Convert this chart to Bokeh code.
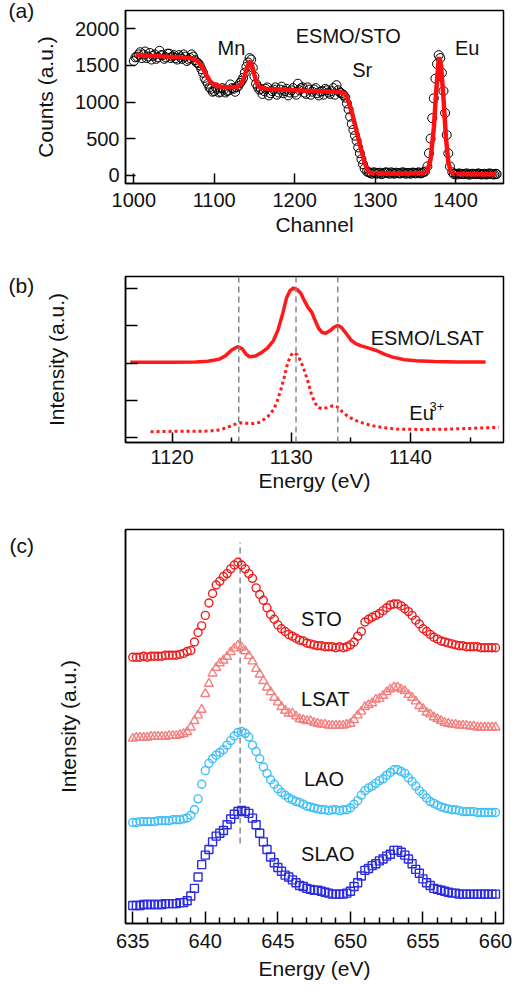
from bokeh.plotting import figure
from bokeh.layouts import column
from bokeh.models import Range1d, FixedTicker, Label, Span
from bokeh.embed import file_html
from bokeh.resources import INLINE

FONT = "Liberation Sans"

# ---------------- (a) RBS spectrum ESMO/STO ----------------
rbs_channel = [1000, 1004, 1008, 1012, 1016, 1020, 1024, 1028, 1032, 1036, 1040, 1044, 1048, 1052,
               1056, 1060, 1064, 1068, 1072, 1076, 1080, 1084, 1086, 1088, 1090, 1092, 1096, 1100,
               1104, 1108, 1112, 1116, 1120, 1124, 1128, 1132, 1136, 1140, 1144, 1146, 1148, 1150,
               1152, 1156, 1160, 1164, 1168, 1172, 1176, 1180, 1184, 1188, 1192, 1196, 1200, 1204,
               1208, 1212, 1216, 1220, 1224, 1228, 1232, 1236, 1240, 1244, 1248, 1252, 1256, 1260,
               1263, 1265, 1267, 1269, 1271, 1273, 1275, 1277, 1279, 1281, 1283, 1285, 1287, 1290,
               1294, 1298, 1302, 1306, 1310, 1314, 1318, 1322, 1326, 1330, 1334, 1338, 1342, 1346,
               1350, 1354, 1358, 1362, 1365, 1367, 1369, 1371, 1373, 1375, 1377, 1379, 1381, 1383,
               1385, 1387, 1389, 1391, 1393, 1396, 1400, 1404, 1408, 1412, 1416, 1420, 1424, 1428,
               1432, 1436, 1440, 1444, 1448, 1451,
               1002, 1006, 1010, 1014, 1018, 1022, 1026, 1030, 1034, 1038, 1042, 1046, 1050, 1054,
               1058, 1062, 1066, 1070, 1074, 1078, 1082, 1094, 1098, 1102, 1106, 1110, 1114, 1118,
               1122, 1126, 1130, 1134, 1138, 1142, 1154, 1158, 1162, 1166, 1170, 1174, 1178, 1182,
               1186, 1190, 1194, 1198, 1202, 1206, 1210, 1214, 1218, 1222, 1226, 1230, 1234, 1238,
               1242, 1246, 1250, 1254, 1258, 1261, 1292, 1296, 1300, 1304, 1308, 1312, 1316, 1320,
               1324, 1328, 1332, 1336, 1340, 1344, 1348, 1352, 1356, 1360, 1398, 1402, 1406, 1410,
               1414, 1418, 1422, 1426, 1430, 1434, 1438, 1442, 1446, 1450]
rbs_counts = [1560, 1620, 1680, 1650, 1600, 1670, 1630, 1590, 1700, 1640, 1610, 1660, 1620, 1600,
              1640, 1590, 1620, 1580, 1650, 1570, 1530, 1450, 1400, 1330, 1290, 1250, 1180, 1150,
              1180, 1140, 1170, 1150, 1240, 1180, 1200, 1260, 1330, 1480, 1600, 1580, 1470, 1350,
              1250, 1170, 1110, 1180, 1090, 1150, 1200, 1130, 1210, 1150, 1090, 1160, 1130, 1250,
              1190, 1130, 1200, 1100, 1170, 1120, 1140, 1100, 1160, 1110, 1190, 1230, 1130, 1100,
              1060, 980, 900, 800, 700, 620, 540, 470, 380, 300, 220, 150, 90, 50,
              30, 40, 20, 35, 25, 40, 20, 30, 35, 25, 40, 20, 30, 35,
              25, 40, 30, 50, 120, 300, 500, 780, 1050, 1320, 1520, 1640, 1600, 1400,
              1150, 850, 550, 300, 120, 40, 20, 25, 15, 20, 10, 20, 15, 25,
              10, 20, 15, 20, 10, 15,
              1610, 1650, 1600, 1690, 1620, 1580, 1650, 1610, 1640, 1590, 1660, 1600, 1640, 1580,
              1610, 1650, 1560, 1600, 1620, 1540, 1500, 1200, 1140, 1200, 1130, 1190, 1130, 1160,
              1190, 1140, 1220, 1290, 1400, 1540, 1210, 1180, 1150, 1200, 1120, 1170, 1100, 1170,
              1120, 1180, 1130, 1190, 1100, 1160, 1200, 1110, 1170, 1140, 1190, 1090, 1150, 1180,
              1130, 1150, 1100, 1160, 1120, 1090, 40, 20, 35, 30, 15, 35, 30, 40,
              20, 30, 25, 35, 30, 20, 35, 30, 25, 40, 15, 10, 20, 15,
              25, 10, 20, 15, 20, 15, 10, 25, 15, 20]
fit_channel = [1002, 1020, 1040, 1060, 1070, 1075, 1080, 1085, 1090, 1095, 1100, 1105, 1110, 1120,
               1128, 1133, 1137, 1141, 1144, 1147, 1150, 1153, 1157, 1165, 1180, 1200, 1220, 1240,
               1258, 1263, 1267, 1272, 1277, 1282, 1287, 1291, 1295, 1310, 1340, 1360, 1365, 1369,
               1373, 1376, 1379, 1380, 1382, 1385, 1388, 1391, 1394, 1398, 1420, 1450]
fit_counts = [1645, 1632, 1620, 1608, 1598, 1585, 1555, 1480, 1370, 1280, 1235, 1215, 1205, 1200,
              1205, 1240, 1330, 1470, 1560, 1500, 1370, 1250, 1195, 1180, 1170, 1160, 1150, 1145,
              1135, 1110, 1000, 820, 600, 380, 170, 60, 30, 25, 25, 30, 60, 220,
              650, 1150, 1580, 1610, 1500, 1050, 520, 180, 50, 20, 15, 15]
a_xticks = [1000, 1100, 1200, 1300, 1400]
a_yticks = [0, 500, 1000, 1500, 2000]

# ---------------- (b) XAS Eu M-edge ----------------
lsat_energy = [1116.5, 1118, 1120, 1122, 1123, 1123.6, 1124.0, 1124.5, 1125.0, 1125.5, 1125.9,
               1126.2, 1126.5, 1127.0, 1127.5, 1128.0, 1128.5, 1128.9, 1129.3, 1129.6, 1129.9,
               1130.2, 1130.5, 1130.8, 1131.1, 1131.4, 1131.7, 1132.0, 1132.3, 1132.6, 1132.9,
               1133.3, 1133.6, 1133.9, 1134.2, 1134.6, 1135.0, 1135.4, 1135.8, 1136.5, 1137.2,
               1137.8, 1138.5, 1139.5, 1140.5, 1142, 1144, 1146.3]
lsat_int = [2.02, 2.02, 2.02, 2.03, 2.05, 2.08, 2.11, 2.20, 2.35, 2.44, 2.38,
            2.24, 2.17, 2.19, 2.28, 2.40, 2.60, 2.90, 3.35, 3.75, 3.95,
            4.02, 3.98, 3.88, 3.68, 3.50, 3.38, 3.15, 2.93, 2.82, 2.80,
            2.88, 2.97, 3.01, 2.96, 2.80, 2.62, 2.52, 2.47, 2.40, 2.33,
            2.24, 2.16, 2.09, 2.06, 2.04, 2.03, 2.03]
eu3_energy = [1118.2, 1120, 1122, 1123.2, 1124.0, 1124.6, 1125.2, 1125.7, 1126.2, 1126.8, 1127.3,
              1127.7, 1128.1, 1128.5, 1128.8, 1129.1, 1129.4, 1129.7, 1130.0, 1130.2, 1130.5,
              1130.8, 1131.1, 1131.4, 1131.7, 1132.0, 1132.3, 1132.6, 1133.0, 1133.5, 1133.9,
              1134.3, 1134.8, 1135.5, 1136.2, 1137, 1138, 1139, 1141, 1143, 1145, 1147.4]
eu3_int = [0.15, 0.16, 0.16, 0.17, 0.20, 0.26, 0.34, 0.39, 0.38, 0.37, 0.40,
           0.48, 0.58, 0.74, 0.95, 1.25, 1.60, 2.00, 2.22, 2.28, 2.22,
           2.05, 1.80, 1.50, 1.15, 0.92, 0.80, 0.77, 0.80, 0.85, 0.81,
           0.68, 0.55, 0.44, 0.36, 0.30, 0.25, 0.22, 0.21, 0.22, 0.24, 0.27]
b_guides = [1125.6, 1130.4, 1133.9]
b_xticks = [1120, 1130, 1140]
b_xminor = [1125, 1135, 1145]
b_yticks = [0, 1, 2, 3, 4]

# ---------------- (c) Mn L-edge XAS ----------------
c_energy = [635 + 0.25 * i for i in range(101)]
sto_int = [0.00, 0.00, 0.00, 0.01, 0.00, 0.01, 0.01, 0.01, 0.01, 0.02, 0.02, 0.02, 0.02, 0.03, 0.04, 0.06,
           0.07, 0.16, 0.26, 0.33, 0.44, 0.57, 0.67, 0.76, 0.80, 0.85, 0.88, 0.93, 0.97, 1.00, 0.97, 0.93,
           0.88, 0.83, 0.73, 0.66, 0.60, 0.52, 0.45, 0.40, 0.34, 0.30, 0.27, 0.24, 0.22, 0.20, 0.18, 0.17,
           0.15, 0.14, 0.13, 0.12, 0.12, 0.11, 0.11, 0.11, 0.10, 0.11, 0.10, 0.11, 0.13, 0.16, 0.22, 0.27,
           0.37, 0.40, 0.42, 0.44, 0.46, 0.49, 0.52, 0.55, 0.56, 0.56, 0.54, 0.51, 0.48, 0.44, 0.39, 0.35,
           0.30, 0.27, 0.24, 0.21, 0.19, 0.17, 0.16, 0.15, 0.14, 0.13, 0.12, 0.12, 0.11, 0.11, 0.11, 0.11,
           0.10, 0.10, 0.10, 0.10, 0.10]
lsat_c_int = [0.00, 0.01, 0.01, 0.01, 0.01, 0.02, 0.02, 0.02, 0.02, 0.02, 0.03, 0.03, 0.03, 0.04, 0.05, 0.07,
              0.12, 0.19, 0.25, 0.31, 0.48, 0.59, 0.70, 0.76, 0.81, 0.84, 0.88, 0.93, 0.97, 1.00, 0.98, 0.94,
              0.89, 0.83, 0.75, 0.69, 0.62, 0.55, 0.50, 0.44, 0.39, 0.34, 0.30, 0.27, 0.27, 0.24, 0.21, 0.20,
              0.19, 0.19, 0.17, 0.16, 0.15, 0.15, 0.14, 0.14, 0.14, 0.14, 0.14, 0.15, 0.16, 0.20, 0.25, 0.29,
              0.34, 0.36, 0.38, 0.42, 0.43, 0.46, 0.50, 0.53, 0.55, 0.55, 0.53, 0.51, 0.47, 0.44, 0.40, 0.35,
              0.32, 0.28, 0.26, 0.23, 0.21, 0.19, 0.17, 0.16, 0.15, 0.15, 0.14, 0.14, 0.14, 0.13, 0.13, 0.12,
              0.12, 0.12, 0.12, 0.12, 0.12]
lao_int = [0.00, 0.00, 0.01, 0.01, 0.01, 0.01, 0.01, 0.02, 0.02, 0.02, 0.02, 0.03, 0.03, 0.03, 0.04, 0.05,
           0.08, 0.14, 0.26, 0.42, 0.57, 0.65, 0.70, 0.74, 0.77, 0.80, 0.85, 0.90, 0.95, 0.99, 1.00, 0.98,
           0.94, 0.85, 0.78, 0.70, 0.61, 0.54, 0.47, 0.42, 0.37, 0.33, 0.30, 0.27, 0.25, 0.23, 0.22, 0.20,
           0.18, 0.17, 0.16, 0.15, 0.14, 0.14, 0.13, 0.14, 0.14, 0.13, 0.14, 0.14, 0.16, 0.20, 0.24, 0.30,
           0.35, 0.38, 0.40, 0.43, 0.46, 0.48, 0.52, 0.55, 0.58, 0.58, 0.56, 0.54, 0.49, 0.45, 0.40, 0.35,
           0.31, 0.27, 0.23, 0.21, 0.19, 0.17, 0.16, 0.15, 0.14, 0.14, 0.13, 0.12, 0.12, 0.12, 0.12, 0.11,
           0.11, 0.11, 0.11, 0.11, 0.11]
slao_int = [0.00, 0.00, 0.00, 0.01, 0.01, 0.01, 0.01, 0.01, 0.01, 0.02, 0.02, 0.02, 0.02, 0.03, 0.03, 0.05,
            0.10, 0.18, 0.30, 0.43, 0.53, 0.59, 0.67, 0.73, 0.76, 0.79, 0.85, 0.91, 0.96, 0.99, 1.00, 0.99,
            0.97, 0.92, 0.85, 0.76, 0.67, 0.59, 0.51, 0.45, 0.40, 0.36, 0.32, 0.30, 0.27, 0.24, 0.21, 0.20,
            0.18, 0.17, 0.16, 0.16, 0.15, 0.14, 0.13, 0.12, 0.12, 0.12, 0.12, 0.13, 0.15, 0.20, 0.24, 0.31,
            0.37, 0.39, 0.42, 0.44, 0.47, 0.49, 0.52, 0.54, 0.58, 0.58, 0.56, 0.53, 0.49, 0.44, 0.38, 0.34,
            0.28, 0.24, 0.21, 0.18, 0.17, 0.16, 0.15, 0.14, 0.13, 0.13, 0.12, 0.12, 0.12, 0.12, 0.12, 0.12,
            0.12, 0.12, 0.12, 0.12, 0.12]
c_names = ["STO", "LSAT", "LAO", "SLAO"]
c_guide = 642.4
c_xticks = [635, 640, 645, 650, 655, 660]
c_xminor = [e for e in range(635, 661) if e % 5 != 0]


def style(p, xlabel, ylabel):
    p.grid.visible = False
    p.outline_line_color = "black"
    p.outline_line_width = 1.5
    p.outline_line_alpha = 1.0
    p.background_fill_color = "white"
    p.border_fill_color = "white"
    for ax in p.axis:
        ax.axis_line_color = "black"
        ax.axis_line_width = 1.5
        ax.major_tick_line_color = "black"
        ax.major_tick_line_width = 1.5
        ax.minor_tick_line_color = "black"
        ax.minor_tick_line_width = 1.5
        ax.major_tick_out = 0
        ax.minor_tick_out = 0
        ax.major_tick_in = 10
        ax.minor_tick_in = 5
        ax.major_label_text_font = FONT
        ax.major_label_text_font_size = "20px"
        ax.major_label_text_color = "#111111"
        ax.axis_label_text_font = FONT
        ax.axis_label_text_font_size = "21px"
        ax.axis_label_text_font_style = "normal"
        ax.axis_label_text_color = "#111111"
    p.xaxis.axis_label = xlabel
    p.yaxis.axis_label = ylabel


def panel_tag(p, text, offset, standoff):
    t = p.title
    t.text = text
    t.align = "left"
    t.vertical_align = "bottom"
    t.offset = offset
    t.standoff = standoff
    t.text_font = FONT
    t.text_font_size = "21px"
    t.text_font_style = "normal"
    t.text_color = "#111111"


def hide_tick_labels(ax):
    ax.major_label_text_color = None
    ax.major_label_text_font_size = "1px"
    ax.major_label_standoff = 0


def note(p, x, y, text, size="20px", align="center"):
    p.add_layout(Label(x=x, y=y, text=text, text_font=FONT, text_font_size=size,
                       text_align=align, text_baseline="middle", text_color="#111111"))


# ---- panel (a)
p1 = figure(width=514, height=250, x_range=Range1d(989.7, 1459.6), y_range=Range1d(-113, 2250),
            output_backend="svg", toolbar_location=None,
            min_border_left=125, min_border_right=11, min_border_top=10, min_border_bottom=67)
style(p1, "Channel", "Counts (a.u.)")
p1.xaxis.ticker = FixedTicker(ticks=a_xticks)
p1.yaxis.ticker = FixedTicker(ticks=a_yticks)
p1.xaxis.major_label_standoff = 9
p1.yaxis.major_label_standoff = 6
p1.xaxis.axis_label_standoff = 3
p1.yaxis.axis_label_standoff = 15
p1.scatter(rbs_channel, rbs_counts, marker="circle", size=9, fill_color=None,
           line_color="black", line_width=1)
p1.line(fit_channel, fit_counts, line_color="#ff1010", line_width=4.5)
note(p1, 1121.4, 1744, "Mn")
note(p1, 1266.7, 1895, "ESMO/STO")
note(p1, 1284, 1431, "Sr")
note(p1, 1414.5, 1731, "Eu")
panel_tag(p1, "(a)", -117, -22)

# ---- panel (b)
p2 = figure(width=514, height=255, x_range=Range1d(1116.1, 1147.8), y_range=Range1d(-0.14, 4.33),
            output_backend="svg", toolbar_location=None,
            min_border_left=125, min_border_right=8, min_border_top=26, min_border_bottom=63)
style(p2, "Energy (eV)", "Intensity (a.u.)")
p2.xaxis.ticker = FixedTicker(ticks=b_xticks, minor_ticks=b_xminor)
p2.yaxis.ticker = FixedTicker(ticks=b_yticks)
p2.yaxis.major_tick_in = 12
hide_tick_labels(p2.yaxis)
p2.yaxis.axis_label_standoff = 58
p2.xaxis.major_label_standoff = 7
p2.xaxis.axis_label_standoff = 2
for g in b_guides:
    p2.add_layout(Span(location=g, dimension="height", line_color="#888888",
                       line_width=1.5, line_dash="6 4"))
p2.line(lsat_energy, lsat_int, line_color="#ff1a1a", line_width=3.5)
p2.line(eu3_energy, eu3_int, line_color="#ff1a1a", line_width=3, line_dash="3 3")
note(p2, 1141.4, 2.67, "ESMO/LSAT")
note(p2, 1139.9, 0.65, "Eu", align="left")
note(p2, 1141.6, 0.82, "3+", size="13px", align="left")
panel_tag(p2, "(b)", -117, -40)

# ---- panel (c)
p3 = figure(width=514, height=485, x_range=Range1d(634.5, 660.55), y_range=Range1d(0, 3.94),
            output_backend="svg", toolbar_location=None,
            min_border_left=124, min_border_right=9, min_border_top=24, min_border_bottom=67)
style(p3, "Energy (eV)", "Intensity (a.u.)")
p3.xaxis.ticker = FixedTicker(ticks=c_xticks, minor_ticks=c_xminor)
p3.xaxis.major_tick_in = 12
p3.xaxis.minor_tick_in = 6
p3.yaxis.ticker = FixedTicker(ticks=[])
hide_tick_labels(p3.yaxis)
p3.yaxis.axis_label_standoff = 46
p3.xaxis.major_label_standoff = 10
p3.xaxis.axis_label_standoff = 6
p3.segment(x0=[c_guide], y0=[0.80], x1=[c_guide], y1=[3.81], line_color="#888888",
           line_width=1.5, line_dash="6 4")
series = [
    (sto_int, 2.663, 0.95, "circle", "#ee1c1c", 8),
    (lsat_c_int, 1.85, 0.93, "triangle", "#f47f7f", 9),
    (lao_int, 1.01, 0.91, "circle", "#3fbff7", 8),
    (slao_int, 0.18, 0.95, "square", "#2b2bdf", 8),
]
for vals, off, amp, mk, col, sz in series:
    ys = [off + amp * v for v in vals]
    p3.scatter(c_energy, ys, marker=mk, size=sz, fill_color=None, line_color=col, line_width=1.4)
note(p3, 646.6, 3.05, c_names[0], align="left")
note(p3, 646.6, 2.25, c_names[1], align="left")
note(p3, 646.8, 1.45, c_names[2], align="left")
note(p3, 646.6, 0.70, c_names[3], align="left")
panel_tag(p3, "(c)", -116, -54)

layout = column(p1, p2, p3, spacing=0)
open("out.html", "w").write(file_html(layout, INLINE))
